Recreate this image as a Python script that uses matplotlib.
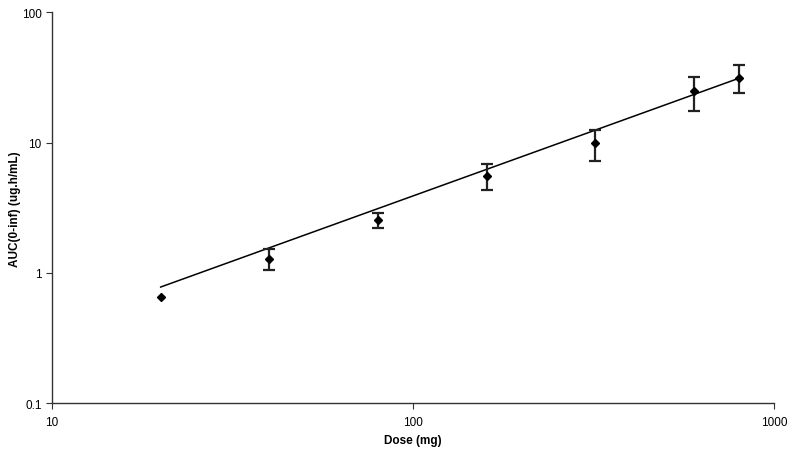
import matplotlib
matplotlib.use("Agg")
import matplotlib.pyplot as plt
import numpy as np

plt.rcParams['font.family'] = ['Liberation Sans', 'DejaVu Sans']

dose = [20, 40, 80, 160, 320, 600, 800]
auc = [0.65, 1.28, 2.57, 5.5, 9.9, 24.7, 31.5]
err_low = [0.0, 0.22, 0.34, 1.2, 2.7, 7.2, 7.3]
err_high = [0.0, 0.25, 0.29, 1.3, 2.7, 7.2, 7.9]

trend_coef = 0.039
trend_exp = 1.0
trend_range = [20, 800]

x_ticks = [10, 100, 1000]
x_tick_labels = ['10', '100', '1000']
y_ticks = [0.1, 1, 10, 100]
y_tick_labels = ['0.1', '1', '10', '100']

fig = plt.figure(figsize=(7.93, 4.56), dpi=100)
ax = fig.add_axes([52/793, 1-404.3/456, (774-52)/793, (404.3-13.3)/456])

tx = np.array(trend_range, dtype=float)
ax.plot(tx, trend_coef * tx ** trend_exp, color='black', lw=1.1)

d = np.array(dose, dtype=float)
a = np.array(auc)
lo = np.array(err_low)
hi = np.array(err_high)
has_err = (lo + hi) > 0
ax.errorbar(d[has_err], a[has_err], yerr=[lo[has_err], hi[has_err]], fmt='none',
            ecolor='#222222', elinewidth=1.6, capsize=4, capthick=1.6)
ax.plot(d, a, 'D', color='black', ms=4.5, zorder=5)

ax.set_xscale('log')
ax.set_yscale('log')
ax.set_xlim(10, 1000)
ax.set_ylim(0.1, 100)
ax.set_xticks(x_ticks)
ax.set_xticklabels(x_tick_labels)
ax.set_yticks(y_ticks)
ax.set_yticklabels(y_tick_labels)
ax.minorticks_off()
ax.tick_params(axis='both', labelsize=8.5, length=4, width=0.8, color='#333333')
ax.tick_params(axis='x', pad=5)

for s in ['top', 'right']:
    ax.spines[s].set_visible(False)
for s in ['left', 'bottom']:
    ax.spines[s].set_color('#333333')
    ax.spines[s].set_linewidth(1.0)

ax.set_xlabel('Dose (mg)', fontsize=8.5, fontweight='bold', va='center')
ax.xaxis.set_label_coords(0.5, -(441.5 - 404.3) / 391.0)
ax.set_ylabel('AUC(0-inf) (ug.h/mL)', fontsize=8.5, fontweight='bold', va='center')
ax.yaxis.set_label_coords(-(52 - 15) / 722.0, 0.5)

fig.savefig('out.png', dpi=100)
